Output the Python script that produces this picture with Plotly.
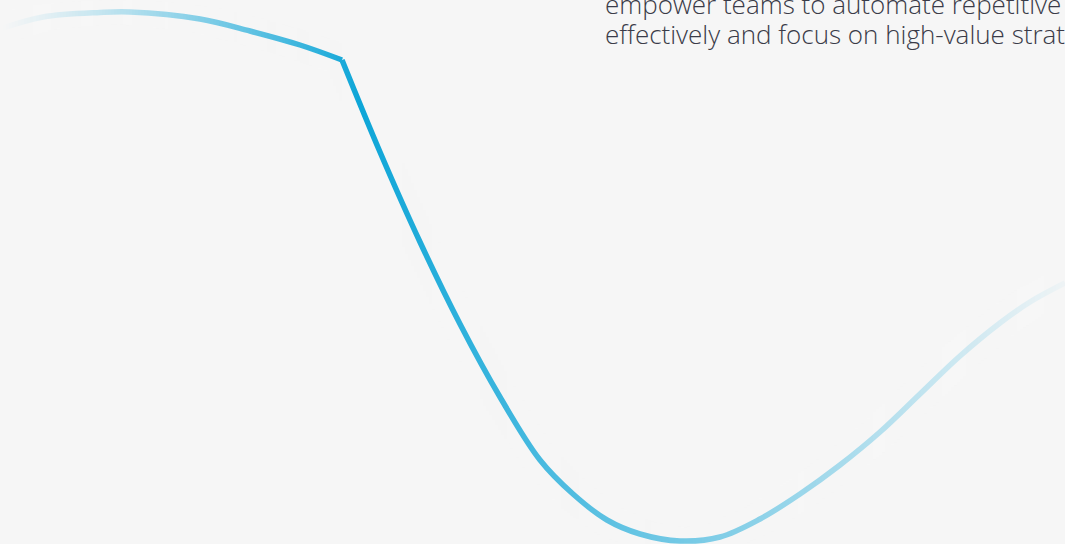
import numpy as np
import plotly.graph_objects as go

# Curve points (x to the right, y downward, in px of the 1065x544 view)
left_x = [0, 43, 100, 130, 200, 250, 300, 342]
left_y = [29, 17, 12.5, 12, 19, 31, 45, 60]

right_x = [342, 380, 420, 460, 500, 540, 573, 607, 640, 680, 720, 760, 800,
           840, 880, 920, 960, 1000, 1030, 1065]
right_y = [60, 152, 242, 324, 397, 460, 494, 520, 534, 541, 537, 519, 494,
           465, 432, 394, 356, 323, 302, 283]

text_lines = ["empower teams to automate repetitive tasks",
              "effectively and focus on high-value strategic work"]
text_baselines = [13, 43]

BG_HEX = "#f6f6f6"
LINE_HEX = "#0ea6d8"
PEAK_X = 360.0
W, H = 1065, 544
STRIP = 3


def alpha_at(x):
    if x <= PEAK_X:
        return max(0.0, x / PEAK_X) ** 1.2
    return max(0.03, 1 - (x - PEAK_X) / (W - PEAK_X) * 0.97)


fig = go.Figure()
for xs, ys in ((left_x, left_y), (right_x, right_y)):
    fig.add_trace(go.Scatter(x=xs, y=ys, mode="lines",
                             line=dict(color=LINE_HEX, width=5.5, shape="spline", smoothing=1),
                             hoverinfo="skip", showlegend=False))

# gradient fade: background-coloured strips laid over the line, only around it
all_x = np.array(left_x + right_x[1:], dtype=float)
all_y = np.array(left_y + right_y[1:], dtype=float)
shapes = []
for x0 in range(0, W, STRIP):
    a = alpha_at(x0 + STRIP / 2)
    if a >= 0.999:
        continue
    probe = np.linspace(x0 - 12, x0 + STRIP + 12, 12)
    ys = np.interp(probe, all_x, all_y)
    shapes.append(dict(type="rect", xref="x", yref="y", x0=x0, x1=x0 + STRIP,
                       y0=max(0, ys.min() - 12), y1=min(H, ys.max() + 12),
                       fillcolor=BG_HEX, opacity=1 - a,
                       line=dict(width=0), layer="above"))
fig.update_layout(shapes=shapes)

FS = 26
for t, b in zip(text_lines, text_baselines):
    fig.add_annotation(x=603, y=b - 0.36 * FS, xref="x", yref="y", text=t,
                       showarrow=False, xanchor="left", yanchor="middle",
                       font=dict(family="Open Sans", size=FS, color="#3a3b48",
                                 weight=300))

fig.update_xaxes(range=[0, W], visible=False)
fig.update_yaxes(range=[H, 0], visible=False)
fig.update_layout(width=W, height=H, margin=dict(l=0, r=0, t=0, b=0),
                  paper_bgcolor=BG_HEX, plot_bgcolor=BG_HEX)

fig.write_html("out.html", config={"displayModeBar": False},
               post_script="document.body.style.margin='0';document.body.style.overflow='hidden';")
